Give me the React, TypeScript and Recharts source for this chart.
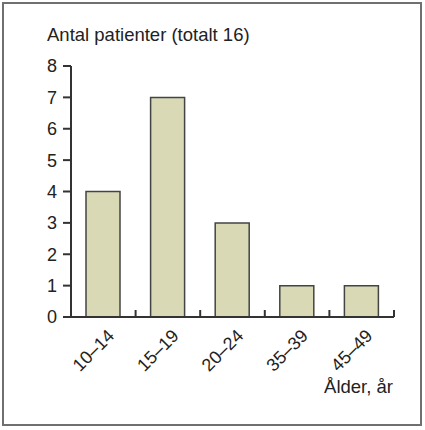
import { BarChart, Bar, XAxis, YAxis } from "recharts";

const ageGroups = ["10–14", "15–19", "20–24", "35–39", "45–49"];
const patientCounts = [4, 7, 3, 1, 1];
const yTicks = [0, 1, 2, 3, 4, 5, 6, 7, 8];

const data = ageGroups.map((age, i) => ({ age, count: patientCounts[i] }));

const FONT = "'Liberation Sans', Arial, sans-serif";
const AXIS = "#333";

function AgeTick(props: any) {
  const { x, y, payload } = props;
  const half = payload && payload.offset != null ? payload.offset : 32.3;
  return (
    <g>
      <line x1={x + half} y1={y} x2={x + half} y2={y - 7} stroke={AXIS} strokeWidth={2} />
      <text
        x={0}
        y={0}
        transform={`translate(${x + 12},${y + 20}) rotate(-45)`}
        textAnchor="end"
        fontSize={18}
        fontFamily={FONT}
        fill="#222"
      >
        {payload.value}
      </text>
    </g>
  );
}

export default function App() {
  return (
    <div style={{ position: "absolute", left: 0, top: 0, width: 425, height: 430, background: "#fff" }}>
      <div
        style={{
          position: "absolute",
          left: 2,
          top: 2,
          width: 420,
          height: 424,
          border: "2px solid #707070",
          boxSizing: "border-box",
        }}
      />
      <BarChart
        width={425}
        height={430}
        data={data}
        margin={{ top: 66, right: 31, left: 31, bottom: 83 }}
        style={{ position: "absolute", left: 0, top: 0 }}
      >
        <XAxis
          dataKey="age"
          height={30}
          tickLine={false}
          tickSize={0}
          tickMargin={0}
          axisLine={{ stroke: AXIS, strokeWidth: 2 }}
          tick={<AgeTick />}
          interval={0}
        />
        <YAxis
          type="number"
          domain={[0, 8]}
          ticks={yTicks}
          interval={0}
          width={40}
          tickSize={8}
          tickMargin={6}
          axisLine={{ stroke: AXIS, strokeWidth: 2 }}
          tickLine={{ stroke: AXIS, strokeWidth: 2 }}
          tick={{ fontSize: 18, fontFamily: FONT, fill: "#222" }}
        />
        <Bar
          dataKey="count"
          barSize={34}
          fill="#d9d9b6"
          stroke="#444"
          strokeWidth={1.5}
          isAnimationActive={false}
        />
      </BarChart>
      <svg
        width={425}
        height={430}
        style={{ position: "absolute", left: 0, top: 0, pointerEvents: "none" }}
      >
        <text x={47} y={41} fontSize={18.5} fontFamily={FONT} fill="#222">
          Antal patienter (totalt 16)
        </text>
        <text x={393} y={393} textAnchor="end" fontSize={18.5} fontFamily={FONT} fill="#222">
          Ålder, år
        </text>
      </svg>
    </div>
  );
}
